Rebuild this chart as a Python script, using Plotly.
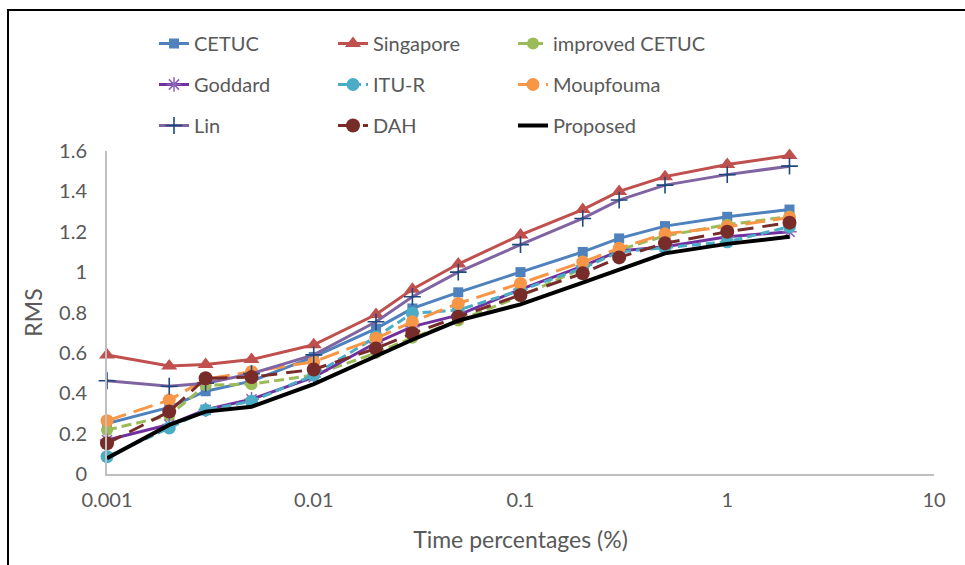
import plotly.graph_objects as go

# ---- data ----
time_pct = [0.001, 0.002, 0.003, 0.005, 0.01, 0.02, 0.03, 0.05, 0.1, 0.2, 0.3, 0.5, 1, 2]

cetuc = [0.25, 0.33, 0.41, 0.46, 0.58, 0.72, 0.82, 0.90, 1.00, 1.10, 1.167, 1.228, 1.274, 1.31]
singapore = [0.59, 0.535, 0.543, 0.567, 0.64, 0.79, 0.915, 1.04, 1.184, 1.31, 1.40, 1.473, 1.533, 1.578]
improved_cetuc = [0.218, 0.29, 0.44, 0.445, 0.49, 0.60, 0.675, 0.76, 0.88, 1.02, 1.11, 1.18, 1.235, 1.275]
goddard = [0.168, 0.245, 0.318, 0.37, 0.48, 0.65, 0.73, 0.787, 0.915, 1.03, 1.105, 1.126, 1.175, 1.20]
itu_r = [0.086, 0.228, 0.317, 0.36, 0.49, 0.68, 0.796, 0.812, 0.91, 1.02, 1.10, 1.12, 1.15, 1.225]
moupfouma = [0.264, 0.366, 0.47, 0.507, 0.556, 0.672, 0.754, 0.845, 0.944, 1.05, 1.118, 1.19, 1.225, 1.27]
lin = [0.462, 0.435, 0.45, 0.497, 0.59, 0.754, 0.878, 1.0, 1.136, 1.266, 1.357, 1.431, 1.483, 1.525]
dah = [0.152, 0.309, 0.474, 0.48, 0.518, 0.622, 0.697, 0.779, 0.887, 0.994, 1.073, 1.143, 1.20, 1.245]
proposed = [0.078, 0.243, 0.309, 0.333, 0.445, 0.585, 0.665, 0.76, 0.84, 0.948, 1.01, 1.093, 1.14, 1.175]

x_tickvals = [0.001, 0.01, 0.1, 1, 10]
x_ticktext = ["0.001", "0.01", "0.1", "1", "10"]
y_tickvals = [0, 0.2, 0.4, 0.6, 0.8, 1.0, 1.2, 1.4, 1.6]
y_ticktext = ["0", "0.2", "0.4", "0.6", "0.8", "1", "1.2", "1.4", "1.6"]

W, H = 965, 565
L, R, T, B = 107, 31, 151, 91
PW, PH = W - L - R, H - T - B

FONT = "Lato"
GREY = "#595959"


def px_x(p):
    return (p - L) / PW


def px_y(p):
    return (H - B - p) / PH


series = [
    ("CETUC", cetuc, dict(color="#4F81BD", width=3), dict(symbol="square", size=10, color="#4F81BD"), "legend", "g1"),
    ("Singapore", singapore, dict(color="#C0504D", width=3), dict(symbol="triangle-up", size=14, color="#C0504D"), "legend2", "g4"),
    ("improved CETUC", improved_cetuc, dict(color="#9BBB59", width=3, dash="10px,5px"), dict(symbol="circle", size=12, color="#9BBB59"), "legend3", "g7"),
    ("Goddard", goddard, dict(color="#7030A0", width=3), dict(symbol="asterisk-open", size=12, color="#8A63B8", line=dict(color="#8A63B8", width=1.5)), "legend", "g2"),
    ("ITU-R", itu_r, dict(color="#4BACC6", width=3, dash="9px,5px"), dict(symbol="circle", size=13, color="#4BACC6"), "legend2", "g5"),
    ("Moupfouma", moupfouma, dict(color="#F79646", width=3, dash="20px,8px"), dict(symbol="circle", size=13, color="#F79646"), "legend3", "g8"),
    ("Lin", lin, dict(color="#8064A2", width=3), dict(symbol="cross-thin-open", size=12, color="#1F497D", line=dict(color="#1F497D", width=1.6)), "legend", "g3"),
    ("DAH", dah, dict(color="#772C2A", width=3, dash="16px,9px"), dict(symbol="circle", size=14, color="#772C2A"), "legend2", "g6"),
    ("Proposed", proposed, dict(color="#000000", width=4), None, "legend3", "g9"),
]

fig = go.Figure()
for name, ys, line, marker, lg, grp in series:
    kw = dict(x=time_pct, y=ys, name=name, line=line, legend=lg, legendgroup=grp, cliponaxis=False)
    if marker is None:
        kw["mode"] = "lines"
    else:
        kw["mode"] = "lines+markers"
        kw["marker"] = marker
    fig.add_trace(go.Scatter(**kw))

legend_common = dict(
    orientation="v",
    xanchor="left",
    yanchor="top",
    y=px_y(24),
    bgcolor="rgba(0,0,0,0)",
    font=dict(family=FONT, size=20, color=GREY),
    tracegroupgap=12,
    itemclick=False,
    itemdoubleclick=False,
)

fig.update_layout(
    width=W,
    height=H,
    margin=dict(l=L, r=R, t=T, b=B, autoexpand=False),
    paper_bgcolor="white",
    plot_bgcolor="white",
    font=dict(family=FONT, size=20, color=GREY),
    showlegend=True,
    legend=dict(x=px_x(154), **legend_common),
    legend2=dict(x=px_x(333), **legend_common),
    legend3=dict(x=px_x(513), **legend_common),
    xaxis=dict(
        type="log",
        range=[-3, 1],
        tickvals=x_tickvals,
        ticktext=x_ticktext,
        showgrid=False,
        zeroline=False,
        showline=True,
        linecolor="#BFBFBF",
        linewidth=2,
        ticks="",
        tickfont=dict(family=FONT, size=20, color=GREY),
        ticklabelstandoff=7,
        title=dict(text="Time percentages (%)", font=dict(family=FONT, size=23, color=GREY), standoff=22),
        automargin=False,
    ),
    yaxis=dict(
        range=[0, 1.6],
        tickvals=y_tickvals,
        ticktext=y_ticktext,
        showgrid=False,
        zeroline=False,
        showline=True,
        linecolor="#BFBFBF",
        linewidth=2,
        ticks="",
        tickfont=dict(family=FONT, size=20, color=GREY),
        ticklabelstandoff=14,
        title=dict(text="RMS", font=dict(family=FONT, size=23, color=GREY), standoff=10),
        automargin=False,
    ),
    shapes=[
        dict(
            type="rect",
            xref="paper",
            yref="paper",
            x0=px_x(8),
            x1=px_x(980),
            y0=px_y(580),
            y1=px_y(10),
            line=dict(color="black", width=2),
            fillcolor="rgba(0,0,0,0)",
            layer="above",
        )
    ],
)

fig.write_html("out.html")
